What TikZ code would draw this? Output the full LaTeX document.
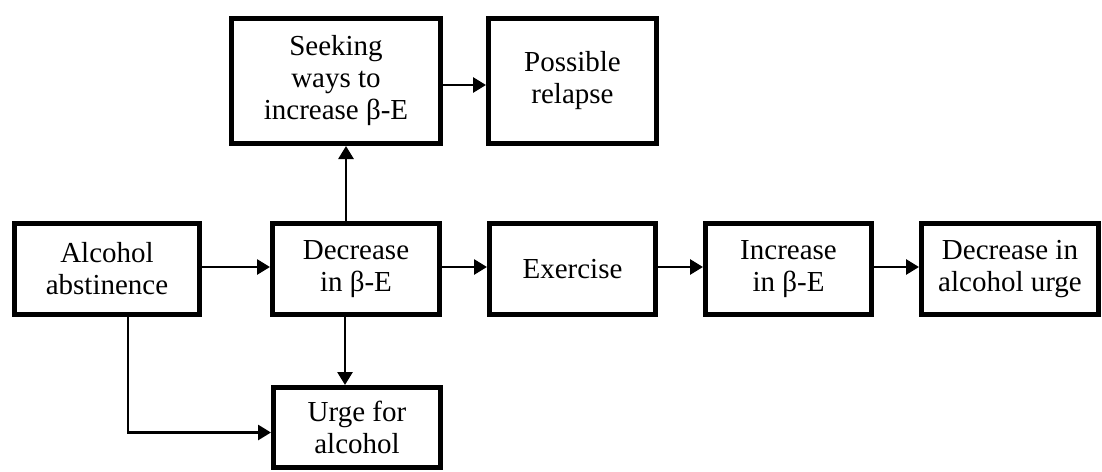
\documentclass[tikz,border=0pt]{standalone}
\usepackage{fontspec}
\setmainfont{Liberation Serif}
\usetikzlibrary{arrows.meta}
\tikzset{
  box/.style={draw, line width=5pt, align=center, inner sep=0pt,
    font=\fontsize{29pt}{32pt}\selectfont},
  arr/.style={line width=2.8pt, -{Triangle[length=13pt,width=15pt]}},
}
\begin{document}
\begin{tikzpicture}[x=1pt,y=1pt]
\useasboundingbox (0,0) rectangle (1102,-471);
\node[box, minimum width=185pt, minimum height=91pt] (alc) at (107,-269) {Alcohol\\abstinence};
\node[box, minimum width=167pt, minimum height=91pt] (dec) at (356,-269) {Decrease\\in β-E};
\node[box, minimum width=166pt, minimum height=91pt] (exe) at (572.5,-269) {Exercise};
\node[box, minimum width=166pt, minimum height=91pt] (inc) at (788.5,-269) {Increase\\in β-E};
\node[box, minimum width=177pt, minimum height=91pt] (dau) at (1010,-269) {Decrease in\\alcohol urge};
\node[box, minimum width=209pt, minimum height=125pt] (seek) at (336,-81) {Seeking\\ways to\\increase β-E};
\node[box, minimum width=168pt, minimum height=125pt] (rel) at (572.5,-81) {Possible\\relapse};
\node[box, minimum width=167pt, minimum height=80pt] (urge) at (357,-427.5) {Urge for\\alcohol};
\draw[arr] ([yshift=2pt]alc.east) -- ([yshift=2pt]dec.west);
\draw[arr] ([yshift=2pt]dec.east) -- ([yshift=2pt]exe.west);
\draw[arr] ([yshift=2pt]exe.east) -- ([yshift=2pt]inc.west);
\draw[arr] ([yshift=2pt]inc.east) -- ([yshift=2pt]dau.west);
\draw[arr] ([yshift=-4pt]seek.east) -- ([yshift=-4pt]rel.west);
\draw[arr] ([xshift=-10pt]dec.north) -- ([xshift=-10pt]dec.north |- seek.south);
\draw[arr] ([xshift=-11pt]dec.south) -- ([xshift=-11pt]dec.south |- urge.north);
\draw[arr] ([xshift=21pt]alc.south) |- ([yshift=-5pt]urge.west);
\end{tikzpicture}
\end{document}
